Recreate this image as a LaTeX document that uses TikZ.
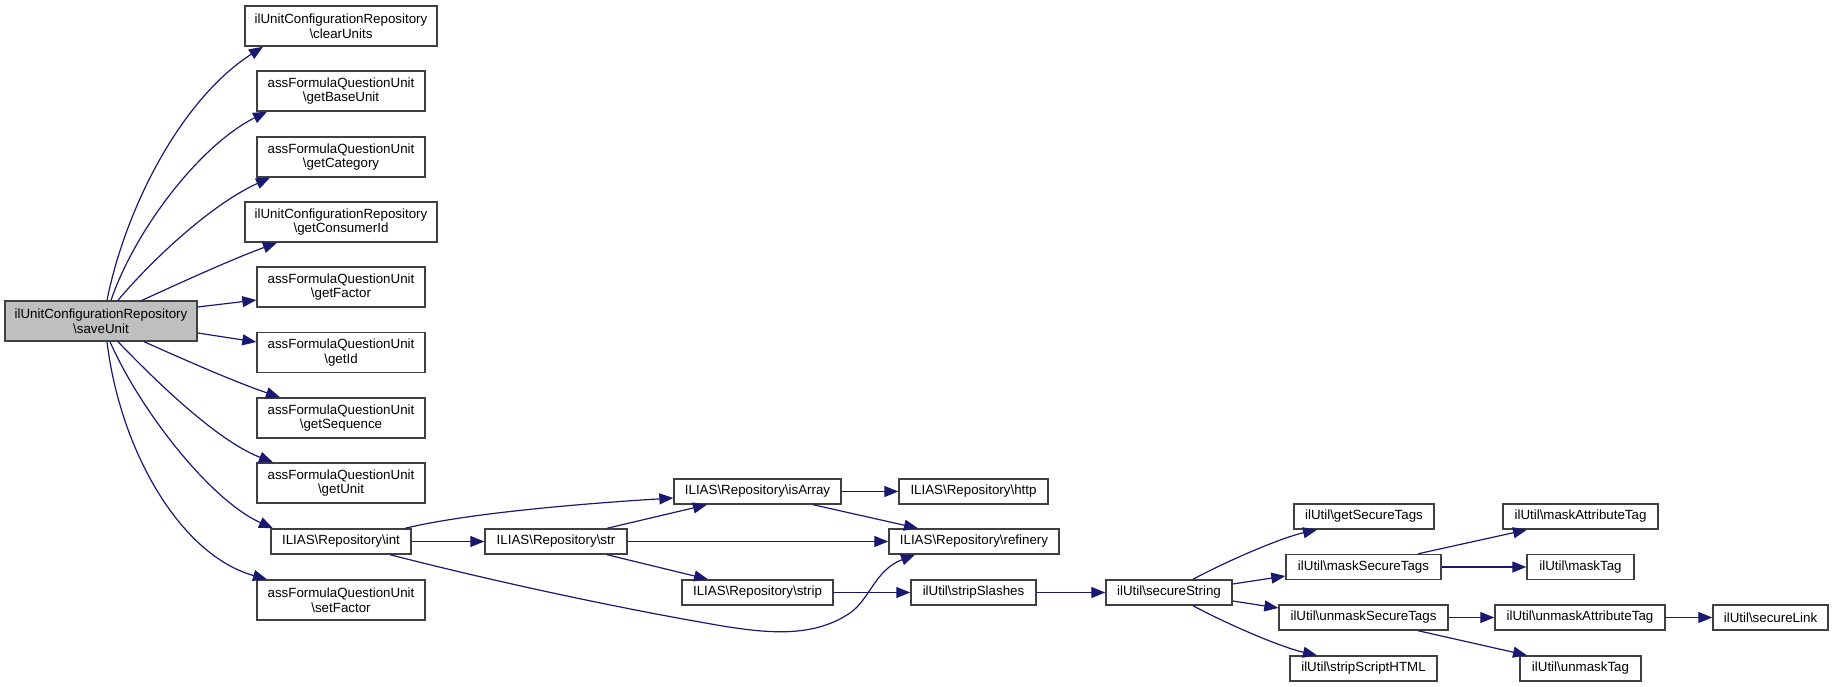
\documentclass[tikz,border=0pt]{standalone}
\usepackage{fontspec}
\setmainfont{Liberation Sans}
\usetikzlibrary{arrows.meta}
\definecolor{edgecol}{HTML}{191970}
\definecolor{boxcol}{HTML}{404040}
\newcommand\nodefont{\fontsize{13.33}{14.5}\selectfont}
\begin{document}
\begin{tikzpicture}[x=1pt,y=-1pt,
  box/.style={draw=boxcol, line width=1.4pt, inner sep=0pt, align=center, font=\nodefont, fill=white},
  twoline/.style={box, minimum height=40pt},
  oneline/.style={box, minimum height=25pt},
  edge/.style={draw=edgecol, line width=1.2pt, -{Triangle[length=14pt,width=11pt]}}]
\useasboundingbox (0,0) rectangle (1833,687);

% first column
\node[twoline, minimum width=192pt, fill=black!25] (saveUnit) at (101,321) {ilUnitConfigurationRepository\\\textbackslash saveUnit};
\node[twoline, minimum width=192pt] (clearUnits) at (341,26) {ilUnitConfigurationRepository\\\textbackslash clearUnits};
\node[twoline, minimum width=168pt] (getBaseUnit) at (341,91) {assFormulaQuestionUnit\\\textbackslash getBaseUnit};
\node[twoline, minimum width=168pt] (getCategory) at (341,157) {assFormulaQuestionUnit\\\textbackslash getCategory};
\node[twoline, minimum width=192pt] (getConsumerId) at (341,222) {ilUnitConfigurationRepository\\\textbackslash getConsumerId};
\node[twoline, minimum width=168pt] (getFactor) at (341,287) {assFormulaQuestionUnit\\\textbackslash getFactor};
\node[twoline, minimum width=168pt] (getId) at (341,352.5) {assFormulaQuestionUnit\\\textbackslash getId};
\node[twoline, minimum width=168pt] (getSequence) at (341,418) {assFormulaQuestionUnit\\\textbackslash getSequence};
\node[twoline, minimum width=168pt] (getUnit) at (341,483) {assFormulaQuestionUnit\\\textbackslash getUnit};
\node[oneline, minimum width=140pt] (int) at (341,541.5) {ILIAS\textbackslash Repository\textbackslash int};
\node[twoline, minimum width=168pt] (setFactor) at (341,600) {assFormulaQuestionUnit\\\textbackslash setFactor};

% repository nodes
\node[oneline, minimum width=142pt] (str) at (556,541.5) {ILIAS\textbackslash Repository\textbackslash str};
\node[oneline, minimum width=167pt] (isArray) at (757.5,491.5) {ILIAS\textbackslash Repository\textbackslash isArray};
\node[oneline, minimum width=151pt] (strip) at (757.5,592.5) {ILIAS\textbackslash Repository\textbackslash strip};
\node[oneline, minimum width=149pt] (http) at (973.5,491.5) {ILIAS\textbackslash Repository\textbackslash http};
\node[oneline, minimum width=170pt] (refinery) at (974,541.5) {ILIAS\textbackslash Repository\textbackslash refinery};
\node[oneline, minimum width=125pt] (stripSlashes) at (973.5,592.5) {ilUtil\textbackslash stripSlashes};

% ilUtil nodes
\node[oneline, minimum width=126pt] (secureString) at (1169,592.5) {ilUtil\textbackslash secureString};
\node[oneline, minimum width=140pt] (getSecureTags) at (1364,516.5) {ilUtil\textbackslash getSecureTags};
\node[oneline, minimum width=155pt] (maskSecureTags) at (1363.5,567) {ilUtil\textbackslash maskSecureTags};
\node[oneline, minimum width=169pt] (unmaskSecureTags) at (1363.5,617.5) {ilUtil\textbackslash unmaskSecureTags};
\node[oneline, minimum width=147pt] (stripScriptHTML) at (1363.5,668.5) {ilUtil\textbackslash stripScriptHTML};
\node[oneline, minimum width=155pt] (maskAttributeTag) at (1580.5,516.5) {ilUtil\textbackslash maskAttributeTag};
\node[oneline, minimum width=107pt] (maskTag) at (1580.5,567) {ilUtil\textbackslash maskTag};
\node[oneline, minimum width=170pt] (unmaskAttributeTag) at (1580,617.5) {ilUtil\textbackslash unmaskAttributeTag};
\node[oneline, minimum width=121pt] (unmaskTag) at (1580.5,668.5) {ilUtil\textbackslash unmaskTag};
\node[oneline, minimum width=115pt] (secureLink) at (1770.5,617.5) {ilUtil\textbackslash secureLink};

% edges from saveUnit
\draw[edge] ([xshift=6pt]saveUnit.north) .. controls (125,210) and (180,100) .. ([xshift=-78pt]clearUnits.south);
\draw[edge] ([xshift=10pt]saveUnit.north) .. controls (135,230) and (200,145) .. ([xshift=-74pt]getBaseUnit.south);
\draw[edge] ([xshift=17pt]saveUnit.north) .. controls (150,262) and (210,205) .. ([xshift=-71pt]getCategory.south);
\draw[edge] ([xshift=41pt]saveUnit.north) .. controls (180,283) and (230,260) .. ([xshift=-64pt]getConsumerId.south);
\draw[edge] ([yshift=14pt]saveUnit.east) -- ([yshift=-13pt]getFactor.west);
\draw[edge] ([yshift=-12pt]saveUnit.east) -- ([yshift=10.5pt]getId.west);
\draw[edge] ([xshift=43pt]saveUnit.south) .. controls (185,360) and (235,382) .. ([xshift=-61pt]getSequence.north);
\draw[edge] ([xshift=17pt]saveUnit.south) .. controls (150,375) and (215,440) .. ([xshift=-68pt]getUnit.north);
\draw[edge] ([xshift=9pt]saveUnit.south) .. controls (140,410) and (210,500) .. ([xshift=-68pt]int.north);
\draw[edge] ([xshift=6pt]saveUnit.south) .. controls (120,450) and (180,555) .. ([xshift=-74pt]setFactor.north);

% edges from int
\draw[edge] ([xshift=64pt]int.north) .. controls (460,515) and (560,505) .. ([yshift=-6.5pt]isArray.west);
\draw[edge] (int) -- (str);
\draw[edge] ([xshift=49pt]int.south) .. controls (500,583) and (620,608) .. (700,622)
  .. controls (760,633) and (810,640) .. (850,613)
  .. controls (870,599) and (875,570) .. ([xshift=-59pt]refinery.south);

% edges from str / isArray / strip
\draw[edge] ([xshift=51pt]str.north) -- ([xshift=-50.5pt]isArray.south);
\draw[edge] (str) -- (refinery);
\draw[edge] ([xshift=51pt]str.south) -- ([xshift=-49.5pt]strip.north);
\draw[edge] (isArray) -- (http);
\draw[edge] ([xshift=55.5pt]isArray.south) -- ([xshift=-56pt]refinery.north);
\draw[edge] (strip) -- (stripSlashes);
\draw[edge] (stripSlashes) -- (secureString);

% edges from secureString
\draw[edge] ([xshift=24pt]secureString.north) .. controls (1225,562) and (1280,538) .. ([xshift=-47pt]getSecureTags.south);
\draw[edge] ([yshift=8.5pt]secureString.east) -- ([yshift=-9pt]maskSecureTags.west);
\draw[edge] ([yshift=-8.5pt]secureString.east) -- ([yshift=9.5pt]unmaskSecureTags.west);
\draw[edge] ([xshift=24pt]secureString.south) .. controls (1225,623) and (1280,647) .. ([xshift=-46.5pt]stripScriptHTML.north);

% edges from mask / unmask
\draw[edge] ([xshift=54.5pt]maskSecureTags.north) -- ([xshift=-53.5pt]maskAttributeTag.south);
\draw[edge] (maskSecureTags) -- (maskTag);
\draw[edge] (unmaskSecureTags) -- (unmaskAttributeTag);
\draw[edge] ([xshift=54.5pt]unmaskSecureTags.south) -- ([xshift=-53.5pt]unmaskTag.north);
\draw[edge] (unmaskAttributeTag) -- (secureLink);
\end{tikzpicture}
\end{document}
